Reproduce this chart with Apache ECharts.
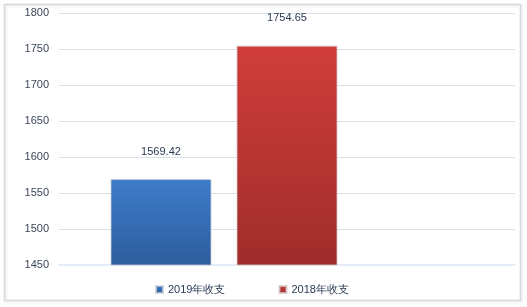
<!DOCTYPE html>
<html><head><meta charset="utf-8">
<script src="https://cdn.jsdelivr.net/npm/echarts@6/dist/echarts.min.js"></script>
<style>html,body{margin:0;padding:0;background:#fff}#c{width:527px;height:307px}</style>
</head><body><div id="c"></div>
<script>
const categories = [''];
const seriesNames = ['2019年收支', '2018年收支', ''];
const values2019 = [1569.42];
const values2018 = [1754.65];
const valuesEmpty = ['-'];
const yMin = 1450, yMax = 1800, yInterval = 50;

const chart = echarts.init(document.getElementById('c'));
const font = '"Liberation Sans", Arial, sans-serif';
function grad(top, bottom) {
  return new echarts.graphic.LinearGradient(0, 0, 0, 1, [{offset: 0, color: top}, {offset: 1, color: bottom}]);
}
const label = {show: true, position: 'top', distance: 22, color: '#2b3a55', fontSize: 11, fontFamily: font,
  formatter: p => p.value.toFixed(2)};
chart.setOption({
  animation: false,
  graphic: [{type: 'rect', shape: {x: 4.5, y: 4.5, width: 516, height: 296},
    style: {fill: 'none', stroke: '#d6d9dd', lineWidth: 1.5, shadowBlur: 3, shadowColor: 'rgba(0,0,0,0.12)', shadowOffsetX: 1, shadowOffsetY: 1}, z: -1}],
  grid: {left: 59, right: 12, top: 13, bottom: 42},
  legend: {left: 150, top: 279, itemWidth: 7, itemHeight: 7, itemGap: 53, icon: 'rect',
    data: [seriesNames[0], seriesNames[1]],
    textStyle: {color: '#2b3a55', fontSize: 11, fontFamily: font}},
  xAxis: {type: 'category', data: categories, axisTick: {show: false}, axisLabel: {show: false},
    axisLine: {lineStyle: {color: '#e3ecf7', width: 2}}},
  yAxis: {type: 'value', min: yMin, max: yMax, interval: yInterval,
    axisLine: {show: false}, axisTick: {show: false},
    axisLabel: {color: '#3b4658', fontSize: 11, fontFamily: font, margin: 10, formatter: v => String(v)},
    splitLine: {lineStyle: {color: '#dae1ec', width: 1}}},
  series: [
    {name: seriesNames[0], type: 'bar', data: values2019, barWidth: 101, barGap: '24.75%',
      itemStyle: {color: grad('#3e7ccb', '#2d5d9c'), borderColor: 'rgba(200,205,215,0.8)', borderWidth: 1}, label: label},
    {name: seriesNames[1], type: 'bar', data: values2018, barWidth: 101,
      itemStyle: {color: grad('#d03d3a', '#9f2d2b'), borderColor: 'rgba(215,200,200,0.8)', borderWidth: 1}, label: label},
    {name: seriesNames[2], type: 'bar', data: valuesEmpty, barWidth: 101}
  ]
});
</script></body></html>
